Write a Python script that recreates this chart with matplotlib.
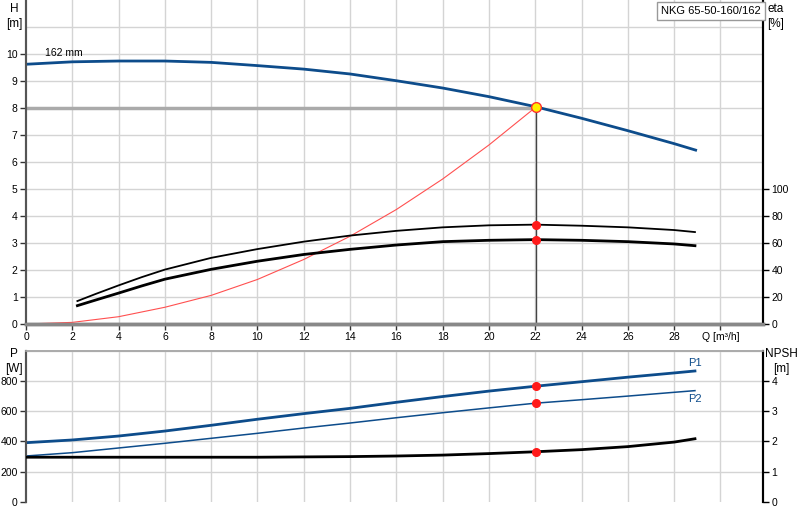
import matplotlib.pyplot as plt
import numpy as np

q_h = [0, 2, 4, 6, 8, 10, 12, 14, 16, 18, 20, 22, 24, 26, 28, 28.93]
head = [9.62, 9.71, 9.74, 9.74, 9.69, 9.57, 9.44, 9.26, 9.01, 8.74, 8.42, 8.05, 7.62, 7.16, 6.68, 6.44]

q_sys = [0, 2, 4, 6, 8, 10, 12, 14, 16, 18, 20, 22.05]
h_sys = [0, 0.06, 0.27, 0.62, 1.06, 1.65, 2.39, 3.25, 4.24, 5.37, 6.63, 8.05]

q_eta = [2.22, 3, 4, 5, 6, 8, 10, 12, 14, 16, 18, 20, 22, 24, 26, 28, 28.9]
eta_hyd = [17, 22.2, 28.6, 34.7, 40.3, 49, 55.5, 61, 65.5, 69, 71.6, 73.1, 73.6, 72.8, 71.6, 69.6, 68.1]
eta_tot = [13.6, 17.7, 22.9, 28.2, 33.2, 40.5, 46.5, 51.5, 55.3, 58.5, 61, 62, 62.5, 62, 61, 59.3, 58]

q_p = [0, 2, 4, 6, 8, 10, 12, 14, 16, 18, 20, 22, 24, 26, 28, 28.9]
p1 = [392, 410, 436, 469, 507, 547, 584, 619, 659, 697, 733, 765, 795, 825, 853, 866]
p2 = [304, 326, 357, 388, 421, 454, 489, 522, 557, 590, 622, 653, 676, 700, 725, 736]
npsh = [1.48, 1.48, 1.48, 1.48, 1.48, 1.48, 1.49, 1.50, 1.52, 1.55, 1.60, 1.66, 1.73, 1.83, 1.98, 2.09]

q_op = 22.05
h_op = 8.05
eta_op = [73.7, 62.4]
p_op = [765, 653]
npsh_op = 1.66

xticks = list(range(0, 32, 2))
xlabels = [str(v) for v in range(0, 30, 2)] + ['Q [m³/h]']

blue = '#0d4c8b'
grid = '#d4d4d4'
plt.rcParams['font.family'] = ['Liberation Sans', 'DejaVu Sans']
plt.rcParams['font.size'] = 7.5

fig = plt.figure(figsize=(8, 5.2), dpi=100)
W, H = 800, 520
ax = fig.add_axes([26 / W, 196 / H, 737 / W, 324 / H])
ax2 = ax.twinx()
bx = fig.add_axes([26 / W, 18 / H, 737 / W, 151.3 / H])
bx2 = bx.twinx()

# top panel
ax.set_xlim(0, 31.84)
ax.set_ylim(0, 12)
ax2.set_ylim(0, 240)
for v in xticks[1:]:
    ax.axvline(v, color=grid, lw=1, zorder=0)
    bx.axvline(v, color=grid, lw=1, zorder=0)
for v in range(1, 12):
    ax.axhline(v, color=grid, lw=1, zorder=0)
for v in range(200, 1001, 200):
    bx.axhline(v, color=grid, lw=1, zorder=0)

ax.plot(q_h, head, color=blue, lw=2, zorder=3)
ax.plot([0, q_op], [8.0, 8.0], color='#aaaaaa', lw=2.5, zorder=2)
ax.plot([q_op, q_op], [0, h_op], color='#444444', lw=1, zorder=2)
ax.plot(q_sys, h_sys, color='#ff5050', lw=0.8, zorder=3)
ax2.plot(q_eta, eta_hyd, color='black', lw=1.3, zorder=3)
ax2.plot(q_eta, eta_tot, color='black', lw=2, zorder=3)
ax2.plot([q_op, q_op], eta_op, 'o', color='#ff1a1a', ms=5.5, zorder=4)
ax.plot([q_op], [h_op], 'o', color='#ffee00', mec='#ff3030', mew=1, ms=7, zorder=5)
ax.text(0.8, 10.05, '162 mm', va='center', ha='left')

ax.set_xticks(xticks)
ax.set_xticklabels(xlabels)
ax.set_yticks(range(0, 11))
ax2.set_yticks(range(0, 101, 20))
ax.tick_params(length=4, width=1, colors='#333333', labelcolor='black', pad=2)
ax2.tick_params(length=4, width=1, labelcolor='black', pad=2)
for a in (ax, ax2):
    a.spines['top'].set_visible(False)
    a.spines['left'].set_color('#555555')
    a.spines['left'].set_linewidth(1.5)
    a.spines['right'].set_color('black')
    a.spines['right'].set_linewidth(1.5)
    a.spines['bottom'].set_color('#888888')
    a.spines['bottom'].set_linewidth(2.5)

# bottom panel
bx.set_xlim(0, 31.84)
bx.set_ylim(0, 1000)
bx2.set_ylim(0, 5)
bx.plot(q_p, p1, color=blue, lw=2, zorder=3)
bx.plot(q_p, p2, color=blue, lw=1.1, zorder=3)
bx2.plot(q_p, npsh, color='black', lw=2, zorder=3)
bx.plot([q_op, q_op], p_op, 'o', color='#ff1a1a', ms=5.5, zorder=4)
bx2.plot([q_op], [npsh_op], 'o', color='#ff1a1a', ms=5.5, zorder=4)
bx.text(28.9, p1[-1] + 22, 'P1', color=blue, ha='center', va='bottom', fontsize=8)
bx.text(28.9, p2[-1] - 22, 'P2', color=blue, ha='center', va='top', fontsize=8)

bx.set_xticks([])
bx.set_yticks(range(0, 801, 200))
bx2.set_yticks(range(0, 5))
bx.tick_params(length=4, width=1, colors='#333333', labelcolor='black', pad=2)
bx2.tick_params(length=4, width=1, labelcolor='black', pad=2)
for a in (bx, bx2):
    a.spines['bottom'].set_visible(False)
    a.spines['top'].set_color('#aaaaaa')
    a.spines['top'].set_linewidth(1.2)
    a.spines['left'].set_color('#555555')
    a.spines['left'].set_linewidth(1.5)
    a.spines['right'].set_color('black')
    a.spines['right'].set_linewidth(1.5)

# axis titles
lab = dict(ha='center', va='top', linespacing=1.3, fontsize=8.5)
fig.text(14 / W, 1 - 3 / H, 'H\n[m]', **lab)
fig.text(776 / W, 1 - 3 / H, 'eta\n[%]', **lab)
fig.text(14 / W, 1 - 348 / H, 'P\n[W]', **lab)
fig.text(781 / W, 1 - 348 / H, 'NPSH\n[m]', **lab)
fig.text(711 / W, 1 - 11 / H, 'NKG 65-50-160/162', ha='center', va='center', fontsize=8,
         bbox=dict(boxstyle='square,pad=0.35', fc='white', ec='#999999', lw=1))

fig.savefig('out.png', dpi=100)
